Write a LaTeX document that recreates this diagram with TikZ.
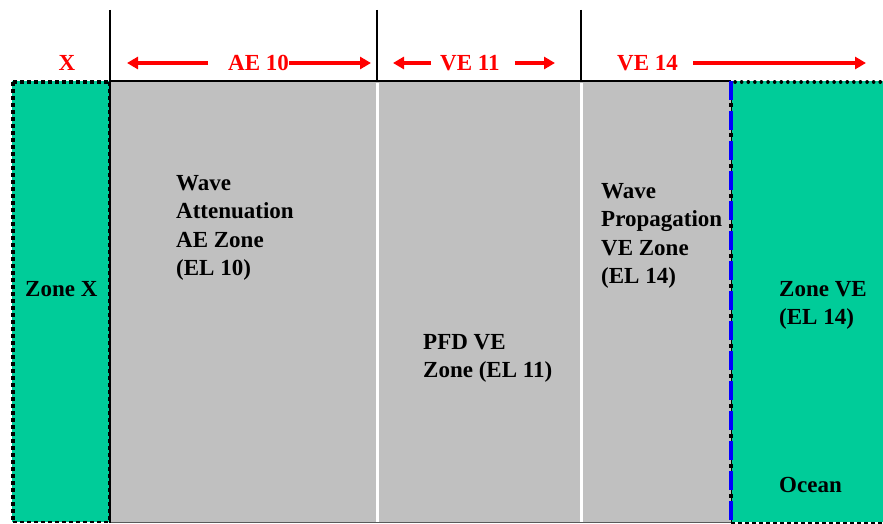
\documentclass[tikz,border=0pt]{standalone}
\usepackage{fontspec}
\setmainfont{Liberation Serif}
\usetikzlibrary{arrows.meta}
\definecolor{zgreen}{RGB}{0,204,153}
\definecolor{zgray}{RGB}{192,192,192}
\begin{document}
\begin{tikzpicture}[x=1pt,y=-1pt,
  lbl/.style={font=\bfseries\fontsize{23}{28.5}\selectfont,align=left,inner sep=0pt},
  rlbl/.style={font=\bfseries\fontsize{23}{28}\selectfont,text=red,inner sep=0pt},
  redarrow/.style={red,line width=4pt,-{Triangle[length=11pt,width=12pt]}},
  divider/.style={black,line width=2pt},
  whitediv/.style={white,line width=3pt}]
\useasboundingbox (0,0) rectangle (883,524);
% regions
\fill[zgray] (110,81) rectangle (731,522);
\fill[zgreen] (12,81) rectangle (110,522);
\fill[zgreen] (731,81) rectangle (883,522);
\draw[gray!70!black,line width=1.5pt] (110,522.5) -- (731,522.5);
% left green border
\draw[black,line width=4pt,dash pattern=on 4pt off 3pt] (13,82) -- (109,82);
\draw[black,line width=4pt,dash pattern=on 4pt off 3pt] (13,82) -- (13,521);
\draw[black,line width=2pt,dash pattern=on 4pt off 3pt] (13,522) -- (109,522);
\draw[black,line width=2pt,dash pattern=on 4pt off 3pt] (109,82) -- (109,522);
% right green borders
\draw[black,line width=3.5pt,line cap=round,dash pattern=on 0.1pt off 6.5pt] (735,82) -- (883,82);
\draw[black,line width=2pt,dash pattern=on 4pt off 3pt] (731,522.5) -- (883,522.5);
% top line and verticals
\draw[divider] (110,81) -- (731,81);
\draw[divider] (110,10) -- (110,523);
\draw[whitediv] (377,83) -- (377,522);
\draw[whitediv] (581,83) -- (581,522);
\draw[divider] (377,10) -- (377,82);
\draw[divider] (581,10) -- (581,82);
% blue dash-dot boundary
\draw[black,line width=0.8pt] (731,81) -- (731,522);
\draw[blue,line width=4pt,dash pattern=on 19pt off 11pt] (731,81) -- (731,522);
\draw[black,line width=4pt,dash pattern=on 4pt off 26pt,dash phase=-22.5pt] (731,81) -- (731,522);
% top labels
\node[rlbl] (x) at (67,63) {X};
\node[rlbl,anchor=west] (ae) at (228,63) {AE 10};
\node[rlbl,anchor=west] (ve11) at (440,63) {VE 11};
\node[rlbl,anchor=west] (ve14) at (617,63) {VE 14};
\coordinate (ae-l) at (127,63);
\coordinate (ae-r) at (371,63);
\coordinate (ve11-l) at (393,63);
\coordinate (ve11-r) at (555,63);
\coordinate (ve14-r) at (866,63);
\draw[redarrow] ([xshift=-20pt]ae.west) -- (ae-l);
\draw[redarrow] (ae.east) -- (ae-r);
\draw[redarrow] ([xshift=-9pt]ve11.west) -- (ve11-l);
\draw[redarrow] ([xshift=15pt]ve11.east) -- (ve11-r);
\draw[redarrow] ([xshift=15pt]ve14.east) -- (ve14-r);
% zone labels
\node[lbl,anchor=west] (zx) at (25,289) {Zone X};
\node[lbl,anchor=north west] (wa) at (176,175) {Wave\\Attenuation\\AE Zone\\(EL 10)};
\node[lbl,anchor=north west] (pfd) at (423,334) {PFD VE\\Zone (EL 11)};
\node[lbl,anchor=north west] (wp) at (601,183) {Wave\\Propagation\\VE Zone\\(EL 14)};
\node[lbl,anchor=north west] (zve) at (779,281) {Zone VE\\(EL 14)};
\node[lbl,anchor=west] (ocean) at (779,485) {Ocean};
\end{tikzpicture}
\end{document}
